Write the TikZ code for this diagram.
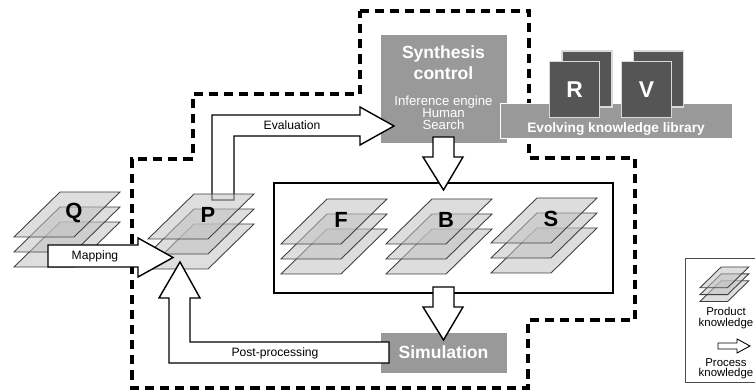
\documentclass[tikz,border=0pt]{standalone}
\usepackage{fontspec}
\setmainfont{Liberation Sans}
\definecolor{boxgray}{RGB}{153,153,153}
\definecolor{cardgray}{RGB}{85,85,85}

% three stacked knowledge layers: name, base x, top y, label
\newcommand{\layerstack}[4]{%
  \begin{scope}[shift={(#2,#3)}]
    \foreach \d in {30,15,0}
      \draw[layer] (46,\d) -- (106,\d) -- (60,\d+45) -- (0,\d+45) -- cycle;
    \node[stacklabel] (#1) at (60,21) {#4};
  \end{scope}}

\begin{document}
\begin{tikzpicture}[x=0.02cm, y=-0.02cm,
  every node/.style={inner sep=0pt, outer sep=0pt},
  layer/.style={draw=black!75, fill=black!24, fill opacity=0.55, line width=0.5pt},
  stacklabel/.style={font=\fontsize{12.5}{12.5}\selectfont\bfseries},
  graybox/.style={fill=boxgray, draw=white, line width=0.5pt, text=white},
  card/.style={fill=cardgray, draw=white!85!black, line width=0.6pt, minimum width=1cm, minimum height=1.12cm, text=white, font=\fontsize{13}{13}\selectfont\bfseries},
  blockarrow/.style={draw=black, fill=white, line width=0.8pt, line join=miter},
  arrowtext/.style={font=\fontsize{6.9}{7}\selectfont},
  legendtext/.style={align=center, font=\fontsize{6.5}{5.8}\selectfont},
  region/.style={draw=black, line width=1.8pt, dash pattern=on 5.2pt off 3.4pt}]
\useasboundingbox (0,0) rectangle (755,391);
\clip (0,0) rectangle (755,391);

% design region
\draw[region] (360,11) -- (529,11) -- (529,158) -- (635,158) -- (635,320) -- (528,320)
  -- (528,388) -- (132,388) -- (132,159) -- (193,159) -- (193,94) -- (360,94) -- cycle;

% synthesis control
\node[graybox, minimum width=2.54cm, minimum height=2.18cm] (synth) at (443.5,88.5) {};
\node[text=white, align=center, font=\fontsize{10}{11.9}\selectfont\bfseries] (synthtitle) at (443.5,62.5) {Synthesis\\control};
\node[text=white, align=center, font=\fontsize{7.5}{6.8}\selectfont] (synthsub) at (443.5,113) {Inference engine\\Human\\Search};

% knowledge library
\node[graybox, minimum width=4.64cm, minimum height=0.7cm] (lib) at (616,120.5) {};
\node[card] (rback) at (587,79) {};
\node[card] (R) at (574.5,89.5) {R};
\node[card] (vback) at (658.5,79) {};
\node[card] (V) at (646.5,89.5) {V};
\node[text=white, font=\fontsize{7.8}{8}\selectfont\bfseries] (libtext) at (616,129) {Evolving knowledge library};

% simulation
\node[graybox, minimum width=2.54cm, minimum height=0.82cm, font=\fontsize{10}{10}\selectfont\bfseries] (sim) at (443.5,352.5) {Simulation};

% F, B, S
\node[draw=black, line width=0.8pt, fill=white, minimum width=6.78cm, minimum height=2.2cm] (fbs) at (443.5,238) {};
\layerstack{F}{281}{199}{F}
\layerstack{B}{386}{199}{B}
\layerstack{S}{491}{198}{S}

% evaluation
\draw[blockarrow] (212,200) -- (212,115) -- (360,115) -- (360,107) -- (394,126) -- (360,145)
  -- (360,136) -- (234,136) -- (234,200) -- cycle;
\node[arrowtext] (evaltext) at (292,125) {Evaluation};

\layerstack{Q}{14}{192}{Q}
\layerstack{P}{148}{194}{P}

% mapping
\draw[blockarrow] (48,245) -- (138,245) -- (138,238) -- (173,257.5) -- (138,277) -- (138,267)
  -- (48,267) -- cycle;
\node[arrowtext] (maptext) at (95,256) {Mapping};

% post-processing
\draw[blockarrow] (389,342) -- (389,363) -- (169,363) -- (169,298) -- (159,298) -- (180,262)
  -- (200,298) -- (190,298) -- (190,342) -- cycle;
\node[arrowtext] (posttext) at (275,353) {Post-processing};

% synthesis to F, B, S and on to simulation
\draw[blockarrow] (433,137) -- (454,137) -- (454,157) -- (463,157) -- (443.5,190) -- (423,157)
  -- (433,157) -- cycle;
\draw[blockarrow] (433,287) -- (454,287) -- (454,307) -- (463,307) -- (443.5,340) -- (423,307)
  -- (433,307) -- cycle;

% legend
\node[draw=black!70, line width=0.5pt, minimum width=1.5cm, minimum height=2.48cm] (legend) at (722.5,320) {};
\begin{scope}[shift={(700,267)}, scale=0.46]
  \layerstack{legstack}{0}{0}{}
\end{scope}
\node[legendtext] (prodtext) at (726,318) {Product\\knowledge};
\draw[blockarrow, line width=0.5pt] (718,343) -- (737,343) -- (737,339) -- (750,346) -- (737,353)
  -- (737,349) -- (718,349) -- cycle;
\node[legendtext] (proctext) at (726,369) {Process\\knowledge};
\end{tikzpicture}
\end{document}
